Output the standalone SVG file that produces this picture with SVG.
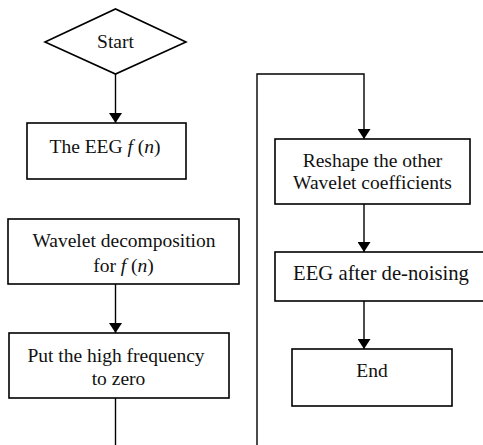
<svg xmlns="http://www.w3.org/2000/svg" width="483" height="445" viewBox="0 0 483 445">
<defs>
<style>
.n{fill:#fff;stroke:#000;stroke-width:1.6}
.t{font-size:19.5px;fill:#111;text-anchor:middle}
.i{font-style:italic}
.c{fill:none;stroke:#000;stroke-width:1.4}
</style>
<marker id="ah" markerWidth="10" markerHeight="13" refX="10" refY="6.5" orient="auto" markerUnits="userSpaceOnUse">
<path d="M0,0 L10,6.5 L0,13 z" fill="#000"/>
</marker>
</defs>
<rect width="483" height="445" fill="#fff"/>
<g id="connectors">
<line class="c" x1="115.5" y1="74" x2="115.5" y2="123" marker-end="url(#ah)"/>
<line class="c" x1="115.5" y1="284" x2="115.5" y2="333" marker-end="url(#ah)"/>
<line class="c" x1="115.5" y1="398" x2="115.5" y2="445"/>
<polyline class="c" points="257,445 257,74 364,74 364,139" marker-end="url(#ah)"/>
<line class="c" x1="364" y1="204" x2="364" y2="252" marker-end="url(#ah)"/>
<line class="c" x1="364" y1="301" x2="364" y2="349" marker-end="url(#ah)"/>
</g>
<g font-family="Liberation Serif, Times New Roman, serif">
<g id="start">
<polygon class="n" points="45,42 115.5,9 186,42 115.5,74"/>
<text class="t" x="115.5" y="48">Start</text>
</g>
<g id="eeg">
<rect class="n" x="27" y="123" width="159" height="56"/>
<text class="t" x="105" y="153">The EEG <tspan class="i">f</tspan> (<tspan class="i">n</tspan>)</text>
</g>
<g id="decomp">
<rect class="n" x="8" y="219" width="231" height="65"/>
<text class="t" x="124" y="247">Wavelet decomposition</text>
<text class="t" x="123.5" y="272">for <tspan class="i">f</tspan> (<tspan class="i">n</tspan>)</text>
</g>
<g id="highfreq">
<rect class="n" x="9" y="333" width="220" height="65"/>
<text class="t" x="116" y="362">Put the high frequency</text>
<text class="t" x="118.5" y="385">to zero</text>
</g>
<g id="reshape">
<rect class="n" x="275" y="139" width="195" height="65"/>
<text class="t" x="372.5" y="167">Reshape the other</text>
<text class="t" x="372.5" y="189">Wavelet coefficients</text>
</g>
<g id="denoised">
<rect class="n" x="275" y="252" width="215" height="49"/>
<text class="t" x="381" y="280" style="font-size:20.7px">EEG after de-noising</text>
</g>
<g id="end">
<rect class="n" x="292" y="349" width="160" height="57"/>
<text class="t" x="372" y="377">End</text>
</g>
</g>
</svg>
